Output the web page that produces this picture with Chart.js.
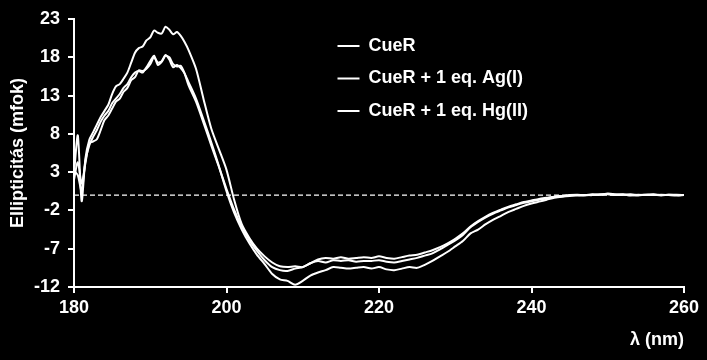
<!DOCTYPE html>
<html><head><meta charset="utf-8">
<script src="https://cdn.jsdelivr.net/npm/chart.js@4.4.1/dist/chart.umd.min.js"></script>
<style>html,body{margin:0;padding:0;background:#000;overflow:hidden}canvas{display:block}</style>
</head><body><canvas id="c" width="707" height="360"></canvas>
<script>
const wavelengths = [180,180.5,181,181.5,182,182.5,183,183.5,184,184.5,185,185.5,186,186.5,187,187.5,188,188.5,189,189.5,190,190.5,191,191.5,192,192.5,193,193.5,194,194.5,195,
196,197,198,199,200,201,202,203,204,205,206,207,208,209,210,211,212,213,214,215,216,217,218,219,220,221,222,223,224,225,226,227,228,229,230,231,232,233,234,235,236,237,238,239,240,241,242,243,244,245,246,247,248,249,250,251,252,253,254,255,256,257,258,259,260];

const cueR = [2.8,7.8,-0.8,4.8,7.2,8.2,9.2,10.2,11.0,11.8,13.2,14.2,14.5,15.2,16.0,17.3,18.6,19.2,19.4,20.2,20.6,21.5,21.2,21.1,22.0,21.6,21.0,21.3,20.8,20.0,19.0,
16.5,12.5,8.7,6.0,3.3,-0.6,-3.8,-5.6,-7.0,-8.0,-8.8,-9.3,-9.4,-9.3,-9.4,-8.9,-8.6,-8.8,-8.5,-8.6,-8.5,-8.7,-8.6,-8.6,-8.5,-8.7,-8.8,-8.6,-8.4,-8.2,-7.9,-7.6,-7.1,-6.5,-5.9,-5.2,-4.2,-3.5,-2.9,-2.4,-2.0,-1.6,-1.3,-1.0,-0.8,-0.6,-0.4,-0.25,-0.15,-0.05,0.0,-0.05,0.05,0.1,0.15,0.05,0.1,-0.05,0.05,0.0,0.05,-0.05,0.05,0.0,0.0];

const cueRAg = [2.0,4.3,1.5,4.2,6.8,7.0,7.3,8.5,9.8,10.4,11.3,12.2,12.6,13.5,14.0,15.0,15.4,16.3,16.2,16.5,17.1,18.0,17.3,17.5,18.3,17.7,16.7,17.0,16.6,15.9,14.8,
12.6,9.8,6.9,3.8,0.5,-2.3,-4.5,-6.3,-7.8,-9.0,-10.3,-11.0,-11.2,-11.7,-11.2,-10.5,-10.1,-9.8,-9.4,-9.5,-9.6,-9.5,-9.4,-9.6,-9.4,-9.7,-9.8,-9.6,-9.4,-9.5,-9.1,-8.6,-8.0,-7.4,-6.7,-6.0,-5.0,-4.5,-3.8,-3.2,-2.7,-2.2,-1.8,-1.4,-1.1,-0.85,-0.6,-0.35,-0.2,-0.1,-0.05,0.0,0.0,0.05,0.1,0.0,0.05,0.0,-0.05,0.05,0.0,0.05,0.0,-0.05,0.0];

const cueRHg = [3.2,2.6,0.5,4.5,6.5,7.6,8.5,9.6,10.4,11.0,12.0,12.6,13.2,14.0,14.5,15.4,16.0,16.2,16.0,16.7,17.5,18.2,17.0,17.4,18.2,18.0,17.1,16.8,16.9,15.9,14.4,
12.2,9.4,6.5,3.7,0.8,-1.9,-4.1,-5.9,-7.3,-8.5,-9.4,-9.8,-9.9,-9.6,-9.4,-8.9,-8.4,-8.2,-8.3,-8.1,-8.3,-8.2,-8.1,-8.2,-8.0,-8.2,-8.3,-8.1,-7.9,-7.8,-7.5,-7.2,-6.8,-6.3,-5.7,-5.0,-4.1,-3.4,-2.8,-2.3,-1.9,-1.5,-1.2,-0.9,-0.7,-0.5,-0.35,-0.2,-0.1,0.0,0.05,0.0,0.1,0.05,0.2,0.1,0.05,0.1,0.0,0.05,0.1,0.0,0.05,0.05,0.0];

const seriesLabels = ['CueR', 'CueR + 1 eq. Ag(I)', 'CueR + 1 eq. Hg(II)'];
const zeroLineX = [180, 260];
const zeroLineY = [0, 0];

const FONT = "'Liberation Sans', Arial, sans-serif";
Chart.defaults.color = '#ffffff';
Chart.defaults.font.family = FONT;

function pts(ys){ return wavelengths.map((w,i)=>({x:w, y:ys[i]})); }

const mkSeries = (label, ys) => ({
  label, data: pts(ys), borderColor:'#ffffff', backgroundColor:'#ffffff',
  borderWidth:2, pointRadius:0, tension:0.25, showLine:true, order:1
});

const legendMover = {
  id:'legendMover',
  afterLayout(chart){
    const l = chart.legend; if(!l) return;
    const w = l.width, h = l.height;
    l.left = 323; l.top = 22.5; l.right = l.left + w; l.bottom = l.top + h;
  }
};

new Chart(document.getElementById('c'), {
  type:'scatter',
  data:{ datasets:[
    mkSeries(seriesLabels[0], cueR),
    mkSeries(seriesLabels[1], cueRAg),
    mkSeries(seriesLabels[2], cueRHg),
    { label:'zero', data: zeroLineX.map((x,i)=>({x, y:zeroLineY[i]})), borderColor:'#ffffff',
      borderWidth:1.2, borderDash:[5,3], pointRadius:0, showLine:true, order:5 }
  ]},
  options:{
    responsive:false, devicePixelRatio:1, animation:false,
    layout:{ padding:{ left:0, top:19, right:23, bottom:0 } },
    plugins:{
      tooltip:{enabled:false},
      legend:{
        position:'chartArea', align:'start',
        labels:{
          filter:(item)=> item.text !== 'zero',
          usePointStyle:true, pointStyle:'line', pointStyleWidth:22,
          boxHeight:18, padding:14.5, color:'#ffffff',
          font:{ size:18, weight:'bold', family:FONT }
        }
      }
    },
    scales:{
      x:{
        type:'linear', min:180, max:260,
        ticks:{ stepSize:20, padding:4, color:'#ffffff', font:{size:18, weight:'bold'} },
        grid:{ drawOnChartArea:false, drawTicks:true, tickLength:6, color:'#ffffff', lineWidth:2 },
        border:{ display:true, color:'#ffffff', width:2 },
        title:{ display:true, text:'λ (nm)', align:'end', color:'#ffffff',
          font:{size:18, weight:'bold'}, padding:{top:0, bottom:9} },
        afterFit:(s)=>{ s.height = 73; }
      },
      y:{
        type:'linear', min:-12, max:23,
        ticks:{ stepSize:5, padding:8, color:'#ffffff', font:{size:18, weight:'bold'} },
        grid:{ drawOnChartArea:false, drawTicks:true, tickLength:6, color:'#ffffff', lineWidth:2 },
        border:{ display:true, color:'#ffffff', width:2 },
        title:{ display:true, text:'Ellipticitás (mfok)', color:'#ffffff',
          font:{size:18, weight:'bold'}, padding:{top:7, bottom:0} },
        afterFit:(s)=>{ s.width = 74; }
      }
    }
  },
  plugins:[legendMover]
});
</script>
</body></html>
